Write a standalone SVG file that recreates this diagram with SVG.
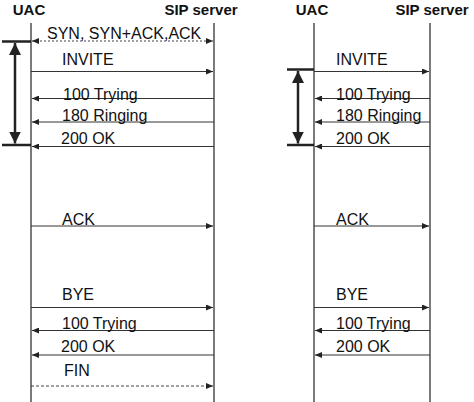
<svg xmlns="http://www.w3.org/2000/svg" width="474" height="402" viewBox="0 0 474 402">
<style>
.hdr{font-family:"Liberation Sans",Arial,sans-serif;font-weight:bold;font-size:15px;fill:#111}
.lbl{font-family:"Liberation Sans",Arial,sans-serif;font-size:16px;fill:#111}
.life{stroke:#222;stroke-width:1.2;fill:none}
.msg{stroke:#333;stroke-width:1;fill:none}
.dot{stroke:#444;stroke-width:1;fill:none;stroke-dasharray:2,2}
.dash{stroke:#444;stroke-width:1;fill:none;stroke-dasharray:3,2}
.brk{stroke:#222;stroke-width:2.5;fill:none}
</style>
<defs>
<marker id="ah" markerUnits="userSpaceOnUse" markerWidth="8" markerHeight="6" refX="7" refY="3" orient="auto-start-reverse">
<path d="M0,0 L7,3 L0,6 z" fill="#222"/>
</marker>
<marker id="big" markerUnits="userSpaceOnUse" markerWidth="12" markerHeight="12" refX="12" refY="6" orient="auto-start-reverse">
<path d="M0,0 L12,6 L0,12 z" fill="#222"/>
</marker>
</defs>
<rect width="474" height="402" fill="#fff"/>
<g id="left-uac"><text class="hdr" x="29" y="15" text-anchor="middle">UAC</text><line class="life" x1="31" y1="23" x2="31" y2="402"/></g>
<g id="left-sip"><text class="hdr" x="201" y="15" text-anchor="middle">SIP server</text><line class="life" x1="214" y1="23" x2="214" y2="402"/></g>
<g id="right-uac"><text class="hdr" x="312" y="15" text-anchor="middle">UAC</text><line class="life" x1="314" y1="23" x2="314" y2="402"/></g>
<g id="right-sip"><text class="hdr" x="432" y="15" text-anchor="middle">SIP server</text><line class="life" x1="430" y1="23" x2="430" y2="402"/></g>
<g id="connectors">
<line class="dot" x1="32" y1="41" x2="213" y2="41" marker-start="url(#ah)" marker-end="url(#ah)"/>
<line class="msg" x1="31" y1="71.5" x2="213" y2="71.5" marker-end="url(#ah)"/>
<line class="msg" x1="214" y1="98.5" x2="32" y2="98.5" marker-end="url(#ah)"/>
<line class="msg" x1="214" y1="122" x2="32" y2="122" marker-end="url(#ah)"/>
<line class="msg" x1="214" y1="146.5" x2="32" y2="146.5" marker-end="url(#ah)"/>
<line class="msg" x1="31" y1="226" x2="213" y2="226" marker-end="url(#ah)"/>
<line class="msg" x1="31" y1="307.5" x2="213" y2="307.5" marker-end="url(#ah)"/>
<line class="msg" x1="214" y1="330.5" x2="32" y2="330.5" marker-end="url(#ah)"/>
<line class="msg" x1="214" y1="355" x2="32" y2="355" marker-end="url(#ah)"/>
<line class="dash" x1="31" y1="386" x2="213" y2="386" marker-end="url(#ah)"/>
<line class="msg" x1="314" y1="71.5" x2="429" y2="71.5" marker-end="url(#ah)"/>
<line class="msg" x1="430" y1="98.5" x2="315" y2="98.5" marker-end="url(#ah)"/>
<line class="msg" x1="430" y1="122" x2="315" y2="122" marker-end="url(#ah)"/>
<line class="msg" x1="430" y1="146.5" x2="315" y2="146.5" marker-end="url(#ah)"/>
<line class="msg" x1="314" y1="226" x2="429" y2="226" marker-end="url(#ah)"/>
<line class="msg" x1="314" y1="307.5" x2="429" y2="307.5" marker-end="url(#ah)"/>
<line class="msg" x1="430" y1="330.5" x2="315" y2="330.5" marker-end="url(#ah)"/>
<line class="msg" x1="430" y1="355" x2="315" y2="355" marker-end="url(#ah)"/>
<line class="brk" x1="2" y1="41.5" x2="31" y2="41.5"/>
<line class="brk" x1="2" y1="145" x2="31" y2="145"/>
<line class="brk" x1="15" y1="43" x2="15" y2="143.5" marker-start="url(#big)" marker-end="url(#big)"/>
<line class="brk" x1="287" y1="69.5" x2="314" y2="69.5"/>
<line class="brk" x1="287" y1="145" x2="314" y2="145"/>
<line class="brk" x1="298" y1="71" x2="298" y2="143.5" marker-start="url(#big)" marker-end="url(#big)"/>
</g>
<g id="labels">
<text class="lbl" x="47" y="39">SYN, SYN+ACK,ACK</text>
<text class="lbl" x="62" y="65">INVITE</text>
<text class="lbl" x="63" y="100">100 Trying</text>
<text class="lbl" x="62" y="121">180 Ringing</text>
<text class="lbl" x="61" y="144">200 OK</text>
<text class="lbl" x="62" y="225">ACK</text>
<text class="lbl" x="62" y="300">BYE</text>
<text class="lbl" x="62" y="329">100 Trying</text>
<text class="lbl" x="61" y="352">200 OK</text>
<text class="lbl" x="64" y="376">FIN</text>
<text class="lbl" x="336" y="65">INVITE</text>
<text class="lbl" x="336" y="100">100 Trying</text>
<text class="lbl" x="336" y="121">180 Ringing</text>
<text class="lbl" x="336" y="144">200 OK</text>
<text class="lbl" x="336" y="225">ACK</text>
<text class="lbl" x="336" y="300">BYE</text>
<text class="lbl" x="336" y="329">100 Trying</text>
<text class="lbl" x="336" y="352">200 OK</text>
</g>
</svg>
